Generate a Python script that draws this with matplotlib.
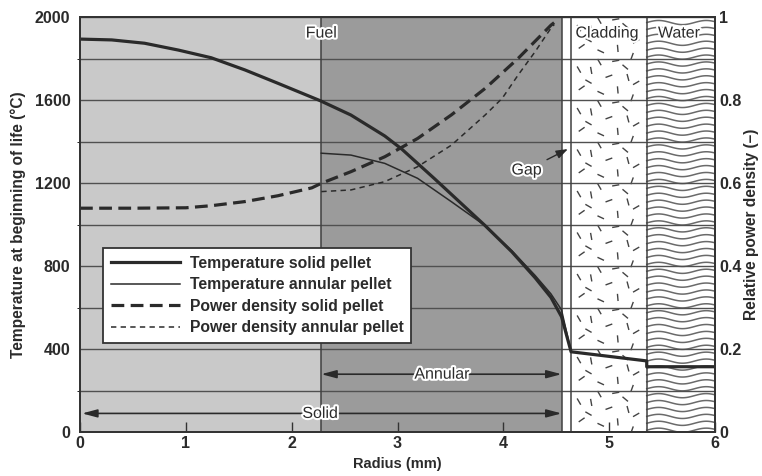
import matplotlib.pyplot as plt
import matplotlib.patheffects as pe
from matplotlib.collections import LineCollection
import numpy as np

plt.rcParams['font.family'] = ['Liberation Sans', 'DejaVu Sans']

# Limites des zones (rayon en mm)
solid_edge = 2.28     # rayon interieur de la pastille annulaire
fuel_edge = 4.55
clad_in = 4.64
clad_out = 5.355
r_max = 6.0

# Temperature pastille pleine (degC)
r_temp_solid = [0, 0.30, 0.61, 0.93, 1.24, 1.56, 1.87, 2.27, 2.56, 2.88, 3.04, 3.35,
                3.57, 3.83, 4.08, 4.30, 4.45, 4.55, 4.64, 5.355, 5.355, 6.0]
t_temp_solid = [1895, 1891, 1875, 1842, 1805, 1746, 1682, 1598, 1529, 1428, 1365, 1222,
                1118, 995, 870, 745, 650, 557, 388, 344, 316, 316]

# Temperature pastille annulaire
r_temp_ann = [2.28, 2.56, 2.88, 3.19, 3.51, 3.83, 4.08, 4.30, 4.45, 4.52, 4.55, 4.64]
t_temp_ann = [1345, 1336, 1296, 1224, 1111, 995, 875, 756, 667, 613, 590, 388]

# Densite de puissance relative
r_pow_solid = [0, 0.5, 1.0, 1.24, 1.56, 1.87, 2.19, 2.28, 2.56, 2.88, 3.19, 3.51,
               3.83, 4.14, 4.45, 4.48]
p_pow_solid = [0.540, 0.540, 0.541, 0.546, 0.556, 0.570, 0.589, 0.600, 0.628, 0.664,
               0.708, 0.765, 0.829, 0.901, 0.981, 0.987]

r_pow_ann = [2.28, 2.56, 2.88, 3.19, 3.51, 3.83, 3.99, 4.14, 4.30, 4.45, 4.48]
p_pow_ann = [0.580, 0.584, 0.604, 0.640, 0.692, 0.765, 0.805, 0.861, 0.917, 0.974, 0.982]

txt = '#2b2b2b'
halo = [pe.withStroke(linewidth=3, foreground='white')]

fig = plt.figure(figsize=(7.62, 4.76), dpi=100)
ax = fig.add_axes([80 / 762, 1 - 432.3 / 476, 635 / 762, 415 / 476])
ax.set_xlim(0, r_max)
ax.set_ylim(0, 2000)

# Zones de fond
ax.axvspan(0, solid_edge, color='#c9c9c9', lw=0, zorder=0.5)
ax.axvspan(solid_edge, fuel_edge, color='#9b9b9b', lw=0, zorder=0.5)
ax.axvspan(fuel_edge, r_max, color='white', lw=0, zorder=0.5)

fig.canvas.draw()
sx = ax.transData.transform((1, 0))[0] - ax.transData.transform((0, 0))[0]
sy = ax.transData.transform((0, 1))[1] - ax.transData.transform((0, 0))[1]

# Motif de la gaine : petits traits orientes
tile = [(0.10, 0.30, 35), (0.24, 0.72, 100), (0.38, 0.18, -25), (0.50, 0.58, 20),
        (0.63, 0.25, 95), (0.74, 0.80, -40), (0.90, 0.42, 30), (0.36, 0.92, 120),
        (0.84, 0.06, 70), (0.06, 0.74, -60), (0.60, 0.95, 10), (0.20, 0.45, 150),
        (0.78, 0.55, 105)]
segs = []
cell_w = clad_out - clad_in
for y0 in range(0, 2000, 200):
    for fx, fy, ang in tile:
        cx = clad_in + 0.05 * cell_w + fx * 0.90 * cell_w
        cy = y0 + fy * 200
        a = np.radians(ang)
        dx = 3.6 * np.cos(a) / sx
        dy = 3.6 * np.sin(a) / sy
        segs.append([(cx - dx, cy - dy), (cx + dx, cy + dy)])
ax.add_collection(LineCollection(segs, colors='#444', lw=1.0, zorder=1.2))

# Motif de l'eau : vagues
xw = np.linspace(clad_out, r_max, 120)
for y0 in np.arange(10, 2000, 33.3):
    yw = y0 + 10 * np.sin(2 * np.pi * (xw - clad_out) / 0.45)
    ax.plot(xw, yw, color='#6a6a6a', lw=1.1, zorder=1.2)

# Grille et limites
ax.set_yticks(range(0, 2001, 400))
ax.set_yticks(range(0, 2001, 200), minor=True)
ax.yaxis.grid(True, which='both', color='#505050', lw=1.0)
for xb in [solid_edge, fuel_edge, clad_in, clad_out]:
    ax.axvline(xb, color='#404040', lw=1.1, zorder=1.6)

# Courbes
l1, = ax.plot(r_temp_solid, t_temp_solid, color='#2a2a2a', lw=2.3, zorder=3,
              label='Temperature solid pellet')
l2, = ax.plot(r_temp_ann, t_temp_ann, color='#2a2a2a', lw=1.1, zorder=3,
              label='Temperature annular pellet')

ax2 = ax.twinx()
ax2.set_ylim(0, 1)
l3, = ax2.plot(r_pow_solid, p_pow_solid, color='#2a2a2a', lw=2.3, dashes=(4, 2),
               label='Power density solid pellet')
l4, = ax2.plot(r_pow_ann, p_pow_ann, color='#2a2a2a', lw=1.1, dashes=(3.5, 2.8),
               label='Power density annular pellet')

# Textes des zones
lab_size = 11.5
ax.text(solid_edge, 1924, 'Fuel', ha='center', va='center', fontsize=lab_size,
        color=txt, path_effects=halo, zorder=5)
ax.text(4.98, 1924, 'Cladding', ha='center', va='center', fontsize=lab_size,
        color=txt, path_effects=halo, zorder=5)
ax.text(5.66, 1924, 'Water', ha='center', va='center', fontsize=lab_size,
        color=txt, path_effects=halo, zorder=5)

ax.annotate('Gap', xy=(4.61, 1365), xytext=(4.22, 1264), ha='center', va='center',
            fontsize=lab_size, color=txt, path_effects=halo, zorder=5,
            arrowprops=dict(arrowstyle='-|>,head_length=0.5,head_width=0.18',
                            color='#2a2a2a', lw=1.0, mutation_scale=14, shrinkA=2, shrinkB=0))

arrow = dict(arrowstyle='<|-|>,head_length=0.6,head_width=0.16', color='#2a2a2a',
             lw=1.2, mutation_scale=15, shrinkA=0, shrinkB=0)
ax.annotate('', xy=(solid_edge, 280), xytext=(fuel_edge, 280), arrowprops=arrow, zorder=4)
ax.text(3.42, 280, 'Annular', ha='center', va='center', fontsize=lab_size, color=txt,
        path_effects=halo, zorder=5)
ax.annotate('', xy=(0.02, 91), xytext=(fuel_edge, 91), arrowprops=arrow, zorder=4)
ax.text(2.27, 91, 'Solid', ha='center', va='center', fontsize=lab_size, color=txt,
        path_effects=halo, zorder=5)

# Axes
ax.set_xticks(range(0, 7))
ax.tick_params(axis='x', direction='in', length=7, width=1, pad=3, colors='#333')
ax.tick_params(axis='y', length=0, pad=7)
ax2.set_yticks([0, 0.2, 0.4, 0.6, 0.8, 1.0])
ax2.set_yticklabels(['0', '0.2', '0.4', '0.6', '0.8', '1'])
ax2.tick_params(axis='y', length=0, pad=3)
for a in (ax, ax2):
    for lab in a.get_xticklabels() + a.get_yticklabels():
        lab.set_fontweight('bold')
        lab.set_fontsize(11.5)
        lab.set_color(txt)
    for sp in a.spines.values():
        sp.set_color('#333')
        sp.set_linewidth(1.3)

ax.set_xlabel('Radius (mm)', fontsize=10.5, fontweight='bold', color=txt, labelpad=4)
ax.set_ylabel('Temperature at beginning of life (°C)', fontsize=11.2, fontweight='bold',
              color=txt, labelpad=6)
ax2.set_ylabel('Relative power density (–)', fontsize=11.2, fontweight='bold',
               color=txt, rotation=90, labelpad=2)

leg = ax2.legend(handles=[l1, l2, l3, l4], loc='lower left',
                 bbox_to_anchor=(0.0367, 0.2145), borderaxespad=0, fontsize=11.3,
                 frameon=True, fancybox=False, framealpha=1, edgecolor='#333',
                 handlelength=4.4, labelspacing=0.42, borderpad=0.5, handletextpad=0.6)
leg.get_frame().set_linewidth(1.3)
for t in leg.get_texts():
    t.set_fontweight('bold')
    t.set_color(txt)

fig.savefig('out.png', dpi=100)
